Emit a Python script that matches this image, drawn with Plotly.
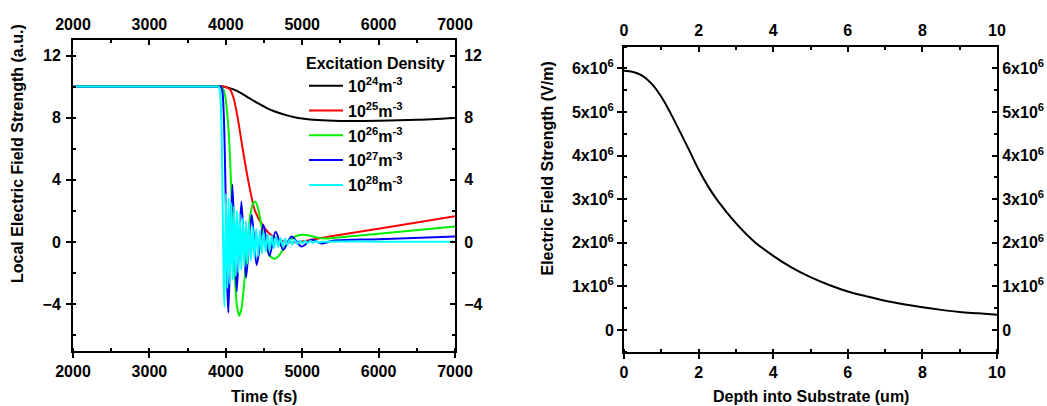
import plotly.graph_objects as go

FONT = "Liberation Sans, Arial, Helvetica, sans-serif"
W, H = 1047, 406

# ---------------- left panel: local field vs. time ----------------
t_1e24 = [2000, 3000, 3900, 3960, 3990, 4050, 4100, 4200, 4300, 4400, 4500, 4600, 4700,
          4800, 4900, 5000, 5200, 5500, 6000, 6500, 7000]
e_1e24 = [10.0, 10.0, 10.0, 10.0, 9.97, 9.9, 9.82, 9.58, 9.28, 8.98, 8.72, 8.48, 8.3,
          8.15, 8.03, 7.95, 7.85, 7.79, 7.8, 7.86, 7.98]

t_1e25 = [2000, 3000, 3940, 3975, 4000, 4050, 4100, 4155, 4221, 4292, 4382, 4491, 4580,
          4665, 4760, 4870, 4980, 5100, 5250, 5400, 6000, 7000]
e_1e25 = [10.0, 10.0, 10.0, 10.0, 9.97, 9.85, 9.3, 8.0, 6.0, 4.0, 2.0, 1.0, 0.5,
          0.25, 0.05, -0.03, 0.02, 0.12, 0.25, 0.38, 0.85, 1.66]

t_1e26 = [2000, 3000, 3910, 3935, 3965, 3995, 4020, 4045, 4070, 4095, 4120, 4148, 4175,
          4205, 4240, 4280, 4320, 4355, 4385, 4420, 4470, 4530, 4590, 4643,
          4700, 4780, 4860, 4940, 5013, 5100, 5200, 5300, 5400, 6000, 7000]
e_1e26 = [10.0, 10.0, 10.0, 10.0, 9.85, 9.3, 8.2, 6.5, 3.6, 0.5, -2.4, -4.2, -4.75,
          -4.3, -2.7, -0.2, 1.7, 2.45, 2.6, 2.2, 0.95, -0.3, -0.95, -1.08,
          -0.85, -0.25, 0.2, 0.42, 0.47, 0.4, 0.28, 0.22, 0.25, 0.53, 1.0]

t_1e27 = [2000, 3000, 3915, 3935, 3955, 3975, 3990, 4005, 4020, 4034, 4086, 4143, 4204,
          4265, 4339, 4404, 4491, 4570, 4652, 4753, 4861, 4992, 5123, 5253,
          5400, 6000, 7000]
e_1e27 = [10.0, 10.0, 10.0, 10.0, 9.7, 8.0, 5.0, 1.0, -3.0, -4.55, 3.7, -3.2, 2.6,
          -2.3, 1.75, -1.5, 1.1, -0.9, 0.65, -0.5, 0.35, -0.3, 0.15, -0.1,
          0.08, 0.18, 0.35]

t_1e28 = [2000, 3000, 3890, 3905, 3925, 3945, 3960, 3972, 3982, 4002, 4020, 4037, 4055,
          4072, 4090, 4108, 4126, 4145, 4164, 4183, 4203, 4223, 4243, 4264,
          4285, 4307, 4329, 4352, 4375, 4398, 4422, 4446, 4471, 4496, 4522,
          4548, 4575, 4602, 4630, 4658, 4687, 4716, 4746, 4776, 4807, 4838,
          4870, 4902, 4935, 4968, 5002, 5036, 5071, 5106, 5142, 5178, 5215,
          5260, 6000, 7000]
e_1e28 = [10.0, 10.0, 10.0, 10.0, 9.6, 7.0, 2.0, -2.5, -4.2, 3.1, -3.0, 2.8, -2.7,
          2.5, -2.45, 2.3, -2.2, 2.0, -2.0, 1.8, -1.8, 1.55, -1.6, 1.35,
          -1.4, 1.2, -1.2, 1.0, -1.05, 0.85, -0.9, 0.72, -0.75, 0.6, -0.62,
          0.5, -0.5, 0.4, -0.4, 0.32, -0.32, 0.25, -0.25, 0.2, -0.2, 0.16,
          -0.16, 0.13, -0.13, 0.1, -0.1, 0.08, -0.08, 0.06, -0.05, 0.04, -0.03,
          0.01, 0.02, 0.02]

density_labels = ["10<sup>24</sup>m<sup>-3</sup>", "10<sup>25</sup>m<sup>-3</sup>",
                  "10<sup>26</sup>m<sup>-3</sup>", "10<sup>27</sup>m<sup>-3</sup>",
                  "10<sup>28</sup>m<sup>-3</sup>"]
density_colors = ["#000000", "#ff0000", "#00f000", "#0000ff", "#00ffff"]
time_series = [(t_1e24, e_1e24), (t_1e25, e_1e25), (t_1e26, e_1e26),
               (t_1e27, e_1e27), (t_1e28, e_1e28)]

# ---------------- right panel: field vs. depth ----------------
depth_um = [0, 0.25, 0.5, 0.75, 1.0, 1.25, 1.5, 1.75, 2.0, 2.25, 2.5, 3.0, 3.5, 4.0,
            4.5, 5.0, 5.5, 6.0, 6.5, 7.0, 7.5, 8.0, 8.5, 9.0, 9.5, 10.0]
field_vm = [5.95e6, 5.92e6, 5.83e6, 5.64e6, 5.35e6, 4.97e6, 4.55e6, 4.12e6, 3.68e6,
            3.30e6, 2.98e6, 2.45e6, 2.02e6, 1.70e6, 1.43e6, 1.21e6, 1.03e6, 0.88e6,
            0.77e6, 0.67e6, 0.59e6, 0.52e6, 0.46e6, 0.41e6, 0.38e6, 0.35e6]

field_tickvals = [0, 1e6, 2e6, 3e6, 4e6, 5e6, 6e6]
field_ticktext = ["0", "1x10<sup>6</sup>", "2x10<sup>6</sup>", "3x10<sup>6</sup>",
                  "4x10<sup>6</sup>", "5x10<sup>6</sup>", "6x10<sup>6</sup>"]

# frame placement in pixels (left, right, top, bottom)
L1 = (73, 455, 40, 350.7)
L2 = (624, 997, 46.7, 351.7)


def xdom(box):
    return [box[0] / W, box[1] / W]


def ydom(box):
    return [1 - box[3] / H, 1 - box[2] / H]


tick_font = dict(family=FONT, size=16, color="black", weight="bold")


def make_axis(domain, rng, side, anchor, ticks, minor_dtick, standoff,
              overlaying=None, **kw):
    ax = dict(domain=domain, range=rng, side=side, anchor=anchor,
              automargin=False, fixedrange=True,
              showline=True, linewidth=2, linecolor="black",
              showgrid=False, zeroline=False,
              ticks=ticks, ticklen=5, tickwidth=2, tickcolor="black",
              tickfont=tick_font, ticklabelstandoff=standoff,
              minor=dict(ticks="inside", dtick=minor_dtick, ticklen=3,
                         tickwidth=2, tickcolor="black", showgrid=False))
    if overlaying:
        ax["overlaying"] = overlaying
    ax.update(kw)
    return ax


fig = go.Figure()

for i, (lab, col, (tx, ey)) in enumerate(zip(density_labels, density_colors, time_series)):
    fig.add_trace(go.Scatter(
        x=tx, y=ey, mode="lines", name=lab, legendgroup=f"g{i}",
        line=dict(color=col, width=2, shape="spline", smoothing=0.8),
        xaxis="x", yaxis="y"))

fig.add_trace(go.Scatter(
    x=depth_um, y=field_vm, mode="lines", showlegend=False,
    line=dict(color="black", width=2, shape="spline", smoothing=1.0),
    xaxis="x3", yaxis="y3"))

# invisible copies so that the mirrored top/right axes get drawn
fig.add_trace(go.Scatter(x=t_1e24, y=e_1e24, mode="lines", opacity=0, showlegend=False,
                         hoverinfo="skip", xaxis="x2", yaxis="y2"))
fig.add_trace(go.Scatter(x=depth_um, y=field_vm, mode="lines", opacity=0, showlegend=False,
                         hoverinfo="skip", xaxis="x4", yaxis="y4"))

fig.update_layout(
    width=W, height=H, margin=dict(l=0, r=0, t=0, b=0),
    paper_bgcolor="white", plot_bgcolor="rgba(0,0,0,0)",
    font=dict(family=FONT, size=16, color="black"),
    xaxis=make_axis(xdom(L1), [2000, 7000], "bottom", "y", "outside", 500, 0,
                    dtick=1000, tick0=0),
    xaxis2=make_axis(xdom(L1), [2000, 7000], "top", "y", "inside", 500, 2,
                     overlaying="x", dtick=1000, tick0=0),
    yaxis=make_axis(ydom(L1), [-7, 13], "left", "x", "outside", 2, 2,
                    dtick=4, tick0=0),
    yaxis2=make_axis(ydom(L1), [-7, 13], "right", "x", "inside", 2, 4,
                     overlaying="y", dtick=4, tick0=0),
    xaxis3=make_axis(xdom(L2), [0, 10], "bottom", "y3", "outside", 1, 0,
                     dtick=2, tick0=0),
    xaxis4=make_axis(xdom(L2), [0, 10], "top", "y3", "inside", 1, 2,
                     overlaying="x3", dtick=2, tick0=0),
    yaxis3=make_axis(ydom(L2), [-0.5e6, 6.5e6], "left", "x3", "outside", 5e5, 0,
                     tickmode="array", tickvals=field_tickvals, ticktext=field_ticktext),
    yaxis4=make_axis(ydom(L2), [-0.5e6, 6.5e6], "right", "x3", "inside", 5e5, 0,
                     overlaying="y3", tickmode="array", tickvals=field_tickvals,
                     ticktext=field_ticktext),
    legend=dict(x=304 / W, y=1 - 48 / H, xanchor="left", yanchor="top",
                bgcolor="rgba(0,0,0,0)", borderwidth=0,
                font=dict(family=FONT, size=16, color="black", weight="bold"),
                title=dict(text="Excitation Density",
                           font=dict(family=FONT, size=16, color="black", weight="bold")),
                tracegroupgap=1, itemwidth=34),
    showlegend=True,
)

title_font = dict(family=FONT, size=16, color="black", weight="bold")
fig.add_annotation(text="Time (fs)", x=264 / W, y=1 - 396 / H, xref="paper", yref="paper",
                   xanchor="center", yanchor="middle", showarrow=False, font=title_font)
fig.add_annotation(text="Depth into Substrate (um)", x=811 / W, y=1 - 396 / H,
                   xref="paper", yref="paper", xanchor="center", yanchor="middle",
                   showarrow=False, font=title_font)
fig.add_annotation(text="Local Electric Field Strength (a.u.)", x=17.5 / W, y=1 - 153.5 / H,
                   xref="paper", yref="paper", xanchor="center", yanchor="middle",
                   textangle=-90, showarrow=False, font=title_font)
fig.add_annotation(text="Electric Field Strength (V/m)", x=547 / W, y=1 - 168.5 / H,
                   xref="paper", yref="paper", xanchor="center", yanchor="middle",
                   textangle=-90, showarrow=False, font=title_font)

fig.write_html("out.html")
